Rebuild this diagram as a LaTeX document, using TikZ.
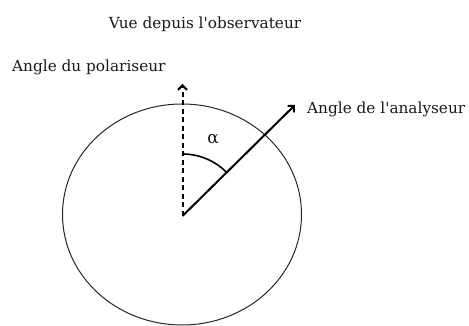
\documentclass[tikz,border=0pt]{standalone}
\usepackage{fontspec}
\setmainfont{DejaVu Serif}
\usepackage{xcolor}
\usepackage{tikz}
\usetikzlibrary{arrows.meta}

\begin{document}
\begin{tikzpicture}[
  x=1pt,
  y=1pt,
  every node/.style={font=\rmfamily\fontsize{15.3}{17}\selectfont, text=black!90, inner sep=0pt},
  axis/.style={line width=2pt, -{Straight Barb[length=4.5pt,width=9pt,line width=2pt]}},
]
\path[use as bounding box] (0,0) rectangle (469,326);

% Title.
\node (title) at (205,302) {Vue depuis l\textquotesingle observateur};

% Circle seen by the observer.
\draw[black!85, line width=1pt] (182,111.5) ellipse [x radius=119.5, y radius=110.5];

% Centre and arrow tips.
\coordinate (o) at (182.5,110);
\coordinate (pol) at (182.5,242);
\coordinate (ana) at (295,221);

% Polariser (dashed) and analyser.
\draw[axis, dash pattern=on 5pt off 3.5pt] (o) -- (pol);
\draw[axis] (o) -- (ana);

% Angle between both.
\draw[line width=1.6pt] (o) ++(90:62) arc[start angle=90, end angle=44.6, radius=62];
\node (alpha) at (213,187) {\fontsize{17}{19}\selectfont α};

% Labels.
\node[anchor=west] (lpol) at (12,259) {Angle du polariseur};
\node[anchor=west] (lana) at (307,217) {Angle de l\textquotesingle analyseur};

\end{tikzpicture}
\end{document}
